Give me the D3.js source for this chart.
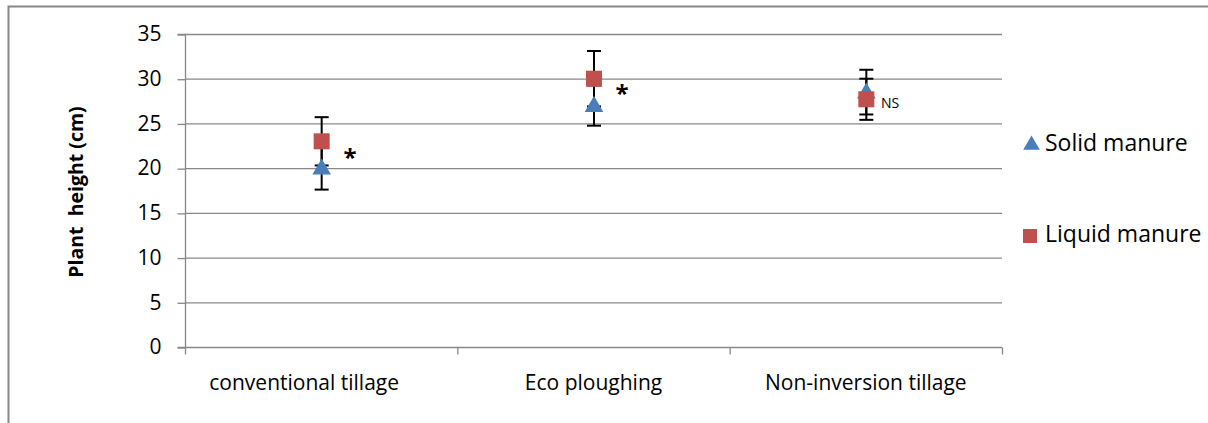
<!DOCTYPE html>
<html><head><meta charset="utf-8">
<script src="https://cdn.jsdelivr.net/npm/d3@7/dist/d3.min.js"></script>
<style>body{margin:0;background:#fff;} svg{display:block;} text{font-family:"Open Sans","Noto Sans",sans-serif;}</style>
</head><body>
<svg id="c" width="1208" height="423"></svg>
<script>
const categories = ["conventional tillage", "Eco ploughing", "Non-inversion tillage"];
const seriesNames = ["Solid manure", "Liquid manure"];
const solidValues = [20, 27, 28.5];
const solidErrors = [2.4, 2.25, 2.5];
const liquidValues = [23, 30, 27.7];
const liquidErrors = [2.7, 3.1, 2.3];
const annotations = ["*", "*", "NS"];
const yTicks = [0, 5, 10, 15, 20, 25, 30, 35];

const svg = d3.select("#c");
const L = 185, R = 1002, T = 34, B = 347;
const x = d3.scaleBand().domain(categories).range([L, R]).padding(0);
const y = d3.scaleLinear().domain([0, 35]).range([B, T]);
const grey = "#888";

// outer border
svg.append("path").attr("d", "M8.5,430 V6.5 H1215").attr("fill","none").attr("stroke",grey).attr("stroke-width",2);

// gridlines
svg.append("g").selectAll("line").data(yTicks.filter(d=>d>0)).join("line")
  .attr("x1", L).attr("x2", R).attr("y1", d=>y(d)+0.5).attr("y2", d=>y(d)+0.5)
  .attr("stroke", grey).attr("stroke-width", 1.3);

// y axis
const ya = svg.append("g").attr("transform", `translate(${L+0.5},0)`)
  .call(d3.axisLeft(y).tickValues(yTicks).tickSize(8).tickPadding(16));
ya.select(".domain").attr("stroke", grey).attr("stroke-width",1.3).attr("d", `M-8,${y(35)+0.5}H0V${B+0.5}H-8`);
ya.selectAll(".tick line").attr("stroke", grey).attr("stroke-width",1.3).attr("transform","translate(0,0.5)");
ya.selectAll(".tick text").attr("font-size", 21).attr("fill","#000").attr("font-family","'Open Sans',sans-serif");

// x axis
const xa = svg.append("g").attr("transform", `translate(0,${B+0.5})`);
xa.append("line").attr("x1", L).attr("x2", R).attr("stroke", grey).attr("stroke-width",1.3);
const bounds = categories.map(c=>x(c)).concat([R]);
xa.selectAll("line.tk").data(bounds).join("line").attr("class","tk")
  .attr("x1", d=>d+0.5).attr("x2", d=>d+0.5).attr("y1",0).attr("y2",7)
  .attr("stroke", grey).attr("stroke-width",1.3);
const labelShift = [-17, 0, 0];
xa.selectAll("text").data(categories).join("text")
  .attr("x", d=>x(d)+x.bandwidth()/2).attr("dx",(d,i)=>labelShift[i]).attr("y", 42)
  .attr("text-anchor","middle").attr("font-size", 21).attr("fill","#000").text(d=>d);

// y label
svg.append("text").attr("transform", `translate(83,192) rotate(-90)`)
  .attr("text-anchor","middle").attr("font-size",19.5).attr("font-weight","bold").attr("fill","#000")
  .attr("xml:space","preserve").style("white-space","pre").text("Plant  height (cm)");

const cx = d=>x(d)+x.bandwidth()/2;
function errBars(vals, errs){
  const g = svg.append("g");
  categories.forEach((c,i)=>{
    const X = cx(c)+0.5, lo = y(vals[i]-errs[i]), hi = y(vals[i]+errs[i]);
    g.append("line").attr("x1",X).attr("x2",X).attr("y1",lo).attr("y2",hi).attr("stroke","#000").attr("stroke-width",2);
    [lo,hi].forEach(v=>g.append("line").attr("x1",X-7).attr("x2",X+7).attr("y1",v).attr("y2",v).attr("stroke","#000").attr("stroke-width",2));
  });
}
errBars(solidValues, solidErrors);
errBars(liquidValues, liquidErrors);

const triColor = "#4a7ebb", sqColor = "#c0504d";
const tri = d3.symbol().type(d3.symbolTriangle).size(150);
svg.append("g").selectAll("path").data(categories).join("path")
  .attr("d", tri).attr("transform",(d,i)=>`translate(${cx(d)+0.5},${y(solidValues[i])+1})`).attr("fill",triColor);
svg.append("g").selectAll("rect").data(categories).join("rect")
  .attr("x",d=>cx(d)+0.5-8).attr("y",(d,i)=>y(liquidValues[i])-8).attr("width",16).attr("height",16).attr("fill",sqColor);

// annotations
const annPos = [[350,166],[622,102],[890,108]];
svg.append("g").selectAll("text").data(annotations).join("text")
  .attr("x",(d,i)=>annPos[i][0]).attr("y",(d,i)=>annPos[i][1])
  .attr("font-size",(d)=>d==="NS"?14:24).attr("font-weight",d=>d==="NS"?"normal":"bold")
  .attr("text-anchor","middle").attr("fill","#000").text(d=>d);

// legend
const lg = svg.append("g");
lg.append("path").attr("d", d3.symbol().type(d3.symbolTriangle).size(120)).attr("transform","translate(1031.5,145)").attr("fill",triColor);
lg.append("rect").attr("x",1023).attr("y",229).attr("width",14).attr("height",14).attr("fill",sqColor);
lg.selectAll("text").data(seriesNames).join("text").attr("x",1045).attr("y",(d,i)=>i===0?151:242)
  .attr("font-size",23).attr("fill","#000").text(d=>d);
</script>
</body></html>
